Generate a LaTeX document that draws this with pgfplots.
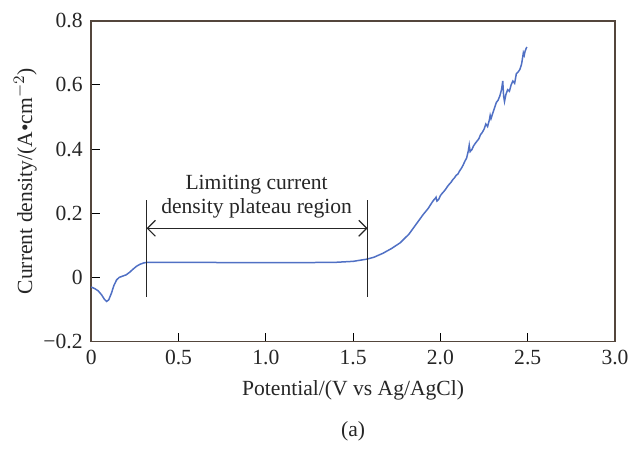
\documentclass[border=0pt]{standalone}
\usepackage{fontspec}
\setmainfont{Liberation Serif}
\usepackage{pgfplots}
\pgfplotsset{compat=1.18}
\usetikzlibrary{arrows.meta}
\definecolor{axc}{HTML}{54463C}
\definecolor{curve}{HTML}{5070C4}
\begin{document}
\fontsize{10.8pt}{11.7pt}\selectfont
\begin{tikzpicture}
\begin{axis}[
  width=262pt, height=160.5pt, scale only axis,
  xmin=0, xmax=3, ymin=-0.2, ymax=0.8,
  axis line style={axc, line width=0.9pt},
  tick style={black, line width=0.5pt},
  major tick length=4.5pt,
  tick align=inside,
  xtick={0,0.5,1,1.5,2,2.5,3},
  xticklabels={0,0.5,1.0,1.5,2.0,2.5,3.0},
  ytick={-0.2,0,0.2,0.4,0.6,0.8},
  yticklabels={−0.2,0,0.2,0.4,0.6,0.8},
  xtick pos=bottom, ytick pos=left,
  every tick label/.append style={font=\fontsize{10.8pt}{11pt}\selectfont, text=black!85},
  xticklabel style={yshift=-0.5pt},
  yticklabel style={xshift=-0.5pt},
  xlabel={Potential/(V vs Ag/AgCl)},
  ylabel={Current density/(A•cm$^{-2}$)},
  label style={font=\fontsize{10.8pt}{11pt}\selectfont, text=black!85},
  xlabel style={at={(axis description cs:0.5,0)}, anchor=center, yshift=-24.5pt},
  ylabel style={at={(axis description cs:0,0.5)}, anchor=center, rotate=0, yshift=33pt},
  clip=false,
]
\addplot[curve, line width=0.75pt] coordinates {
(0,-0.030) (0.02,-0.035) (0.04,-0.042) (0.06,-0.055) (0.075,-0.068) (0.088,-0.075)
(0.10,-0.070) (0.115,-0.050) (0.13,-0.025) (0.145,-0.008) (0.16,0.000) (0.18,0.004)
(0.20,0.008) (0.22,0.016) (0.24,0.026) (0.26,0.035) (0.28,0.041) (0.30,0.045)
(0.32,0.047) (0.40,0.047) (0.60,0.047) (0.80,0.046) (1.00,0.046) (1.20,0.046)
(1.40,0.047) (1.50,0.050) (1.58,0.057) (1.62,0.063) (1.67,0.075) (1.72,0.090)
(1.77,0.108) (1.82,0.135) (1.86,0.165) (1.90,0.195) (1.93,0.215)
(1.95,0.232) (1.96,0.240) (1.97,0.246) (1.975,0.250) (1.98,0.238) (1.99,0.243)
(2.00,0.255) (2.01,0.262) (2.02,0.268) (2.03,0.275) (2.04,0.283) (2.05,0.290)
(2.06,0.296) (2.07,0.304) (2.08,0.310) (2.09,0.318) (2.10,0.322) (2.11,0.332)
(2.12,0.340) (2.13,0.350) (2.14,0.362) (2.15,0.372) (2.16,0.395) (2.165,0.412)
(2.17,0.392) (2.18,0.398) (2.19,0.410) (2.20,0.418) (2.21,0.425) (2.22,0.432)
(2.23,0.445) (2.24,0.452) (2.25,0.462) (2.26,0.478) (2.27,0.470) (2.28,0.490)
(2.285,0.505) (2.29,0.495) (2.30,0.512) (2.31,0.528) (2.32,0.545) (2.33,0.552)
(2.34,0.565) (2.35,0.585) (2.357,0.612) (2.362,0.565) (2.367,0.548) (2.375,0.570)
(2.385,0.585) (2.395,0.580) (2.405,0.600) (2.415,0.612) (2.425,0.605) (2.435,0.635)
(2.445,0.640) (2.455,0.648) (2.465,0.665) (2.475,0.700) (2.48,0.692) (2.485,0.705)
(2.49,0.712) (2.495,0.718)
};
\draw[black!85, line width=0.6pt] (axis cs:0.317,-0.06) -- (axis cs:0.317,0.241);
\draw[black!85, line width=0.6pt] (axis cs:1.583,-0.06) -- (axis cs:1.583,0.241);
\draw[black!85, line width=0.6pt, {Straight Barb[length=4pt,width=8pt]}-{Straight Barb[length=4pt,width=8pt]}] (axis cs:0.317,0.153) -- (axis cs:1.583,0.153);
\node[text=black!85, align=center, font=\fontsize{10.8pt}{11.7pt}\selectfont] at (axis cs:0.947,0.252) {Limiting current\\density plateau region};
\node[text=black!85, font=\fontsize{10.8pt}{11pt}\selectfont] at ([yshift=-45pt]rel axis cs:0.5,0) {(a)};
\coordinate (BL) at (rel axis cs:0,0);
\coordinate (TR) at (rel axis cs:1,1);
\end{axis}
\path ([shift={(-45.65pt,-51.15pt)}]BL) rectangle ([shift={(10.5pt,10.35pt)}]TR);
\end{tikzpicture}
\end{document}
